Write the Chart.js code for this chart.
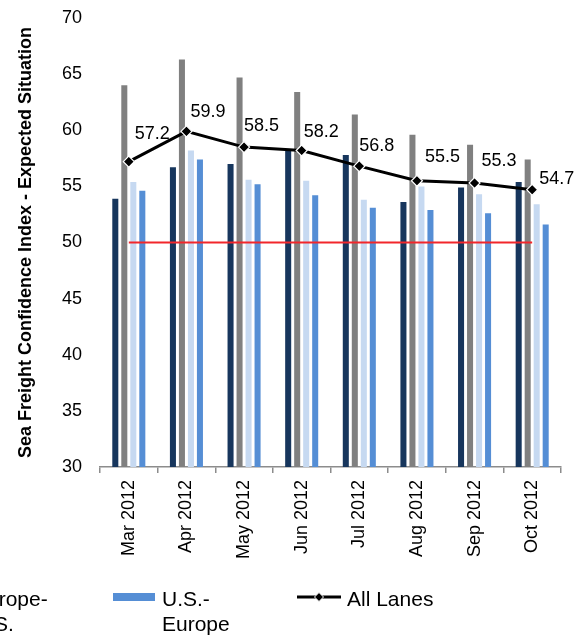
<!DOCTYPE html>
<html>
<head>
<meta charset="utf-8">
<script src="https://cdn.jsdelivr.net/npm/chart.js@4/dist/chart.umd.min.js"></script>
<style>
  html, body { margin: 0; padding: 0; background: #fff; overflow: hidden; }
  #wrap { position: relative; width: 576px; height: 635px; overflow: hidden; }
  #c { position: absolute; left: 0; top: 0; }
  .lg-text { position: absolute; font: 21px "Liberation Sans", Arial, sans-serif; line-height: 25px; color: #000; white-space: pre; }
  .lg-swatch { position: absolute; width: 42px; height: 8px; }
  .lg-line { position: absolute; }
</style>
</head>
<body>
<div id="wrap">
  <canvas id="c" width="576" height="635"></canvas>
</div>
<script>
// Sea Freight Confidence Index, expected situation, by trade lane
const months = ['Mar 2012', 'Apr 2012', 'May 2012', 'Jun 2012', 'Jul 2012', 'Aug 2012', 'Sep 2012', 'Oct 2012'];
const asiaEurope = [53.9, 56.7, 57.0, 58.3, 57.8, 53.6, 54.9, 55.4];
const asiaUS     = [64.0, 66.3, 64.7, 63.4, 61.4, 59.6, 58.7, 57.4];
const europeUS   = [55.4, 58.2, 55.6, 55.5, 53.8, 55.0, 54.3, 53.4];
const usEurope   = [54.6, 57.4, 55.2, 54.2, 53.1, 52.9, 52.6, 51.6];
const allLanes   = [57.2, 59.9, 58.5, 58.2, 56.8, 55.5, 55.3, 54.7];
const neutralLevel = [50, 50, 50, 50, 50, 50, 50, 50];
const yMin = 30, yMax = 70, yStep = 5;

const FONT = '"Liberation Sans", Arial, sans-serif';

// Writes the All Lanes values next to their markers
const valueLabels = {
  id: 'valueLabels',
  afterDatasetsDraw(chart, args, opts) {
    const idx = chart.data.datasets.findIndex(d => d.label === opts.label);
    const meta = chart.getDatasetMeta(idx);
    const values = chart.data.datasets[idx].data;
    const ctx = chart.ctx;
    ctx.save();
    ctx.font = '18px ' + FONT;
    ctx.fillStyle = '#000';
    ctx.textAlign = 'left';
    ctx.textBaseline = 'middle';
    meta.data.forEach((pt, i) => {
      const [dx, dy] = opts.offsets[i];
      ctx.fillText(values[i].toFixed(1), pt.x + dx, pt.y + dy);
    });
    ctx.restore();
  }
};

const chart = new Chart(document.getElementById('c'), {
  type: 'bar',
  data: {
    labels: months,
    datasets: [
      {
        type: 'line', label: 'All Lanes', data: allLanes, order: 0,
        borderColor: '#000', borderWidth: 3, tension: 0,
        pointStyle: 'rectRot', pointRadius: 5.5,
        pointBackgroundColor: '#000', pointBorderColor: '#fff', pointBorderWidth: 1.2
      },
      {
        type: 'line', label: 'Neutral', data: neutralLevel, order: 1,
        borderColor: '#F2262B', borderWidth: 2, pointRadius: 0, tension: 0
      },
      { label: 'Asia-Europe', data: asiaEurope, backgroundColor: '#17365D', order: 2 },
      { label: 'Asia-U.S.',   data: asiaUS,     backgroundColor: '#808080', order: 2 },
      { label: 'Europe-U.S.', data: europeUS,   backgroundColor: '#C6D9F1', order: 2 },
      { label: 'U.S.-Europe', data: usEurope,   backgroundColor: '#558ED5', order: 2 }
    ]
  },
  options: {
    responsive: false,
    devicePixelRatio: 1,
    animation: false,
    layout: { padding: { left: 0, right: 15, top: 18, bottom: 0 } },
    datasets: { bar: { categoryPercentage: 0.625, barPercentage: 0.67, borderWidth: 0 } },
    plugins: {
      legend: { display: false },
      tooltip: { enabled: false },
      valueLabels: {
        label: 'All Lanes',
        offsets: [[6, -28], [4, -19], [0, -21], [2, -18], [0, -20], [8, -24], [7, -22], [7, -11]]
      }
    },
    scales: {
      x: {
        offset: true,
        grid: { display: true, drawOnChartArea: false, drawTicks: true, tickLength: 6, color: '#8C8C8C', lineWidth: 1.5, offset: true },
        border: { display: true, color: '#8C8C8C', width: 1.5 },
        ticks: { minRotation: 90, maxRotation: 90, padding: 7, color: '#000', font: { family: FONT, size: 18 } },
        afterFit(scale) { scale.height = 168; scale.paddingLeft = 0; scale.paddingRight = 0; }
      },
      y: {
        min: yMin, max: yMax,
        grid: { display: false, drawTicks: false },
        border: { display: false },
        ticks: { stepSize: yStep, padding: 18, color: '#000', font: { family: FONT, size: 18 } },
        title: {
          display: true,
          text: 'Sea Freight Confidence Index - Expected Situation',
          color: '#000',
          font: { family: FONT, size: 18, weight: 'bold' },
          padding: { top: 15, bottom: 0 }
        },
        afterFit(scale) { scale.width = 100; scale.paddingTop = 0; scale.paddingBottom = 0; }
      }
    }
  },
  plugins: [valueLabels]
});

// Legend row along the bottom edge
const wrap = document.getElementById('wrap');
const legendSpots = {
  'Europe-U.S.': { swatch: -76, text: -27 },
  'U.S.-Europe': { swatch: 113, text: 162 },
  'All Lanes':   { swatch: 297, text: 347 }
};
chart.data.datasets.forEach(ds => {
  const spot = legendSpots[ds.label];
  if (!spot) return;
  if (ds.type === 'line') {
    const svgNS = 'http://www.w3.org/2000/svg';
    const svg = document.createElementNS(svgNS, 'svg');
    svg.setAttribute('class', 'lg-line');
    svg.setAttribute('width', '44');
    svg.setAttribute('height', '12');
    svg.style.left = spot.swatch + 'px';
    svg.style.top = '591px';
    const ln = document.createElementNS(svgNS, 'line');
    ln.setAttribute('x1', '0'); ln.setAttribute('x2', '44');
    ln.setAttribute('y1', '6'); ln.setAttribute('y2', '6');
    ln.setAttribute('stroke', '#000'); ln.setAttribute('stroke-width', '3');
    const dm = document.createElementNS(svgNS, 'polygon');
    dm.setAttribute('points', '22,1.5 26.5,6 22,10.5 17.5,6');
    dm.setAttribute('fill', '#000'); dm.setAttribute('stroke', '#fff'); dm.setAttribute('stroke-width', '1');
    svg.appendChild(ln); svg.appendChild(dm);
    wrap.appendChild(svg);
  } else {
    const sw = document.createElement('div');
    sw.className = 'lg-swatch';
    sw.style.left = spot.swatch + 'px';
    sw.style.top = '593px';
    sw.style.background = ds.backgroundColor;
    wrap.appendChild(sw);
  }
  const tx = document.createElement('div');
  tx.className = 'lg-text';
  tx.style.left = spot.text + 'px';
  tx.style.top = '586px';
  tx.textContent = ds.label.indexOf('-') > 0 && ds.type !== 'line' ? ds.label.replace('-', '-\n') : ds.label;
  wrap.appendChild(tx);
});
</script>
</body>
</html>
